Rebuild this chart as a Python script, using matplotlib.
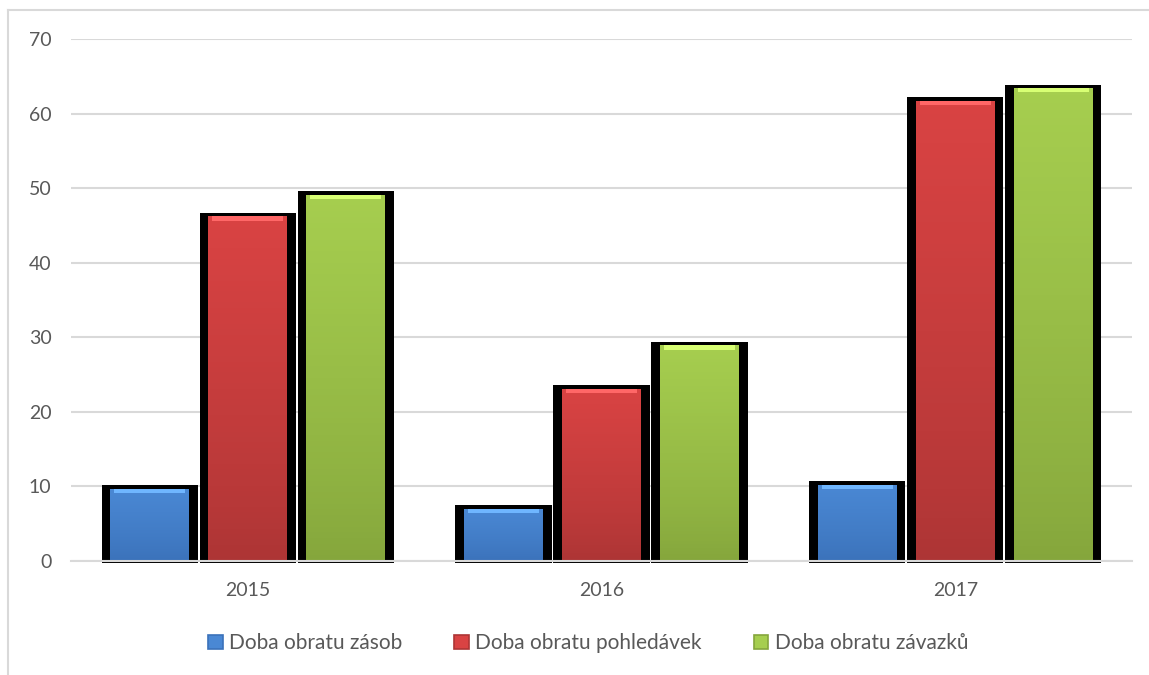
import numpy as np
import matplotlib.pyplot as plt
from matplotlib.patches import Patch
from matplotlib.lines import Line2D
from matplotlib.colors import to_rgb

plt.rcParams['font.family'] = ['Lato', 'DejaVu Sans']

years = ['2015', '2016', '2017']
zasoby = [9.7, 7.0, 10.2]
pohledavky = [46.2, 23.1, 61.7]
zavazky = [49.1, 28.9, 63.4]

series = [
    ('Doba obratu zásob', zasoby, '#4a88d4', '#3b72ba'),
    ('Doba obratu pohledávek', pohledavky, '#d94343', '#ad3535'),
    ('Doba obratu závazků', zavazky, '#a6ce4f', '#85a63c'),
]

fig = plt.figure(figsize=(11.49, 6.75), dpi=100)
ax = fig.add_axes([0.0618, 0.1689, 0.9235, 0.7733])

x = np.arange(len(years))
pitch = 0.277
frame_w = 0.272
bar_w = 0.223
grad = np.linspace(0, 1, 64).reshape(-1, 1)

for i, (name, vals, top_c, bot_c) in enumerate(series):
    pos = x + (i - 1) * pitch
    # black "shadow" frame behind each bar
    ax.bar(pos, np.array(vals) + 0.8, bottom=-0.3, width=frame_w,
           color='black', zorder=2, clip_on=False)
    bars = ax.bar(pos, vals, width=bar_w, color=top_c, zorder=3)
    c1, c2 = np.array(to_rgb(top_c)), np.array(to_rgb(bot_c))
    img = (c2 + (c1 - c2) * grad ** 0.8).reshape(64, 1, 3)
    for b in bars:
        x0, w, h = b.get_x(), b.get_width(), b.get_height()
        im = ax.imshow(img, extent=[x0, x0 + w, 0, h], aspect='auto',
                       origin='lower', zorder=4)
        im.set_clip_path(b)
        # light bevel on top
        ax.bar(x0 + w / 2, 0.55, bottom=h - 0.55, width=w * 0.9,
               color=tuple(np.minimum(c1 * 1.15 + 0.1, 1)), zorder=5)

ax.set_xlim(-0.5, 2.5)
ax.set_ylim(0, 70)
ax.set_yticks(range(0, 71, 10))
ax.set_xticks(x)
ax.set_xticklabels(years)
ax.yaxis.grid(True, color='#d9d9d9', linewidth=1.5, zorder=0)
ax.set_axisbelow(True)
for s in ['top', 'right', 'left']:
    ax.spines[s].set_visible(False)
ax.spines['bottom'].set_color('#d9d9d9')
ax.spines['bottom'].set_linewidth(1.5)
ax.spines['bottom'].set_zorder(6)
ax.tick_params(axis='both', length=0, labelsize=14, colors='#595959')
ax.tick_params(axis='y', pad=14)
ax.tick_params(axis='x', pad=15)

handles = [Patch(facecolor=s[2], edgecolor=s[3], linewidth=1.2, label=s[0])
           for s in series]
fig.legend(handles=handles, loc='center', bbox_to_anchor=(0.512, 0.047),
           ncol=3, frameon=False, fontsize=15, labelcolor='#595959',
           handlelength=0.7, handleheight=0.7, handletextpad=0.3,
           columnspacing=2.5)

# chart border (top and left visible)
fig.add_artist(Line2D([8 / 1149, 1], [1 - 10 / 675, 1 - 10 / 675],
                      color='#d9d9d9', linewidth=1.5))
fig.add_artist(Line2D([8 / 1149, 8 / 1149], [0, 1 - 10 / 675],
                      color='#d9d9d9', linewidth=1.5))

fig.savefig('out.png', dpi=100)
